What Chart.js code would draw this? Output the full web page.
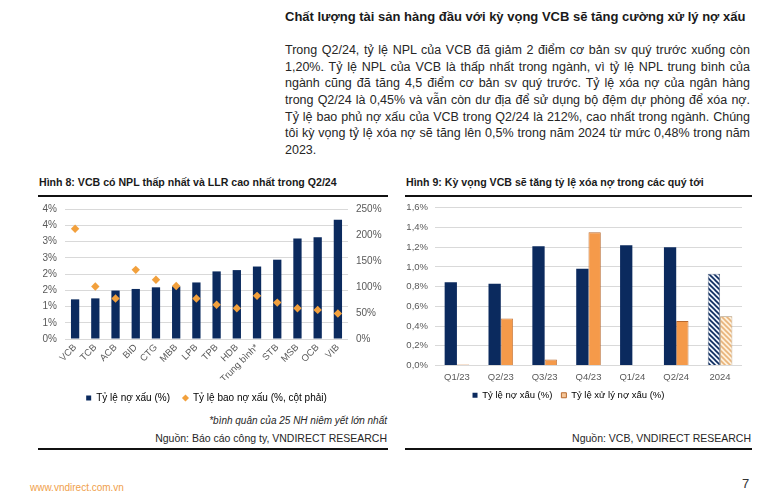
<!DOCTYPE html>
<html>
<head>
<meta charset="utf-8">
<script src="https://cdn.jsdelivr.net/npm/chart.js@4.4.1/dist/chart.umd.min.js"></script>
<style>
  html, body { margin:0; padding:0; background:#fff; }
  body { width:778px; height:491px; position:relative; overflow:hidden; font-family:"Liberation Sans", Arial, sans-serif; color:#222; }
  .abs { position:absolute; white-space:nowrap; }
  .heading { left:285px; top:9px; font-size:13px; font-weight:bold; color:#1a1a1a; }
  .para { position:absolute; left:285px; width:465px; font-size:12.5px; line-height:16px; color:#262626; }
  .para div { text-align:justify; text-align-last:justify; white-space:nowrap; height:16.7px; }
  .para div.last { text-align-last:left; }
  .ctitle { font-size:10.6px; font-weight:bold; color:#1a1a1a; }
  .rule { position:absolute; height:1.5px; background:#111; }
  .src { font-size:10.5px; color:#262626; text-align:right; }
  canvas { position:absolute; }
</style>
</head>
<body>
<div class="abs heading">Chất lượng tài sản hàng đầu với kỳ vọng VCB sẽ tăng cường xử lý nợ xấu</div>
<div class="para" style="top:42px;">
  <div>Trong Q2/24, tỷ lệ NPL của VCB đã giảm 2 điểm cơ bản sv quý trước xuống còn</div>
  <div>1,20%. Tỷ lệ NPL của VCB là thấp nhất trong ngành, vì tỷ lệ NPL trung bình của</div>
  <div>ngành cũng đã tăng 4,5 điểm cơ bản sv quý trước. Tỷ lệ xóa nợ của ngân hàng</div>
  <div>trong Q2/24 là 0,45% và vẫn còn dư địa để sử dụng bộ đệm dự phòng để xóa nợ.</div>
  <div>Tỷ lệ bao phủ nợ xấu của VCB trong Q2/24 là 212%, cao nhất trong ngành. Chúng</div>
  <div>tôi kỳ vọng tỷ lệ xóa nợ sẽ tăng lên 0,5% trong năm 2024 từ mức 0,48% trong năm</div>
  <div class="last">2023.</div>
</div>

<div class="abs ctitle" style="left:39px; top:176px;">Hình 8: VCB có NPL thấp nhất và LLR cao nhất trong Q2/24</div>
<div class="rule" style="left:38px; width:350px; top:195px;"></div>
<div class="abs ctitle" style="left:406px; top:176px;">Hình 9: Kỳ vọng VCB sẽ tăng tỷ lệ xóa nợ trong các quý tới</div>
<div class="rule" style="left:405px; width:347px; top:195px;"></div>

<canvas id="c1" width="395" height="218" style="left:0px; top:195px; width:395px; height:218px;"></canvas>
<canvas id="c2" width="383" height="215" style="left:395px; top:195px; width:383px; height:215px;"></canvas>

<div class="abs" style="left:0; width:387px; top:415px; font-size:10px; font-style:italic; color:#262626; text-align:right;">*bình quân của 25 NH niêm yết lớn nhất</div>
<div class="abs src" style="left:0; width:387px; top:432px;">Nguồn: Báo cáo công ty, VNDIRECT RESEARCH</div>
<div class="abs src" style="left:400px; width:351px; top:432px;">Nguồn: VCB, VNDIRECT RESEARCH</div>
<div class="rule" style="left:38px; width:350px; top:448px;"></div>
<div class="rule" style="left:405px; width:347px; top:448px;"></div>

<div class="abs" style="left:30px; top:482px; font-size:10px; color:#f0a04b;">www.vndirect.com.vn</div>
<div class="abs" style="left:742px; top:476px; font-size:13px; color:#333;">7</div>

<script>
// ---- Data: Hình 8 ----
const banks = ['VCB','TCB','ACB','BID','CTG','MBB','LPB','TPB','HDB','Trung bình*','STB','MSB','OCB','VIB'];
const nplRatio = [1.22, 1.25, 1.49, 1.54, 1.59, 1.62, 1.74, 2.08, 2.12, 2.23, 2.44, 3.09, 3.13, 3.67];
const llrRatio = [212, 101, 78, 133, 114, 102, 78, 66, 59, 83, 70, 59, 56, 49];

// ---- Data: Hình 9 ----
const quarters = ['Q1/23','Q2/23','Q3/23','Q4/23','Q1/24','Q2/24','2024'];
const vcbNpl = [0.845, 0.83, 1.21, 0.98, 1.22, 1.20, 0.93];
const vcbWriteOff = [0.01, 0.477, 0.06, 1.35, 0, 0.45, 0.50];

const NAVY = '#0b2a5e';
const ORANGE = '#f59a4a';
const DIAMOND = '#f2a03c';
const GRID = '#d9d9d9';
const TICK = '#595959';
const FONT = '"Liberation Sans", Arial, sans-serif';

function hatch(bg, fg, lw) {
  const s = 5;
  const c = document.createElement('canvas');
  c.width = s; c.height = s;
  const x = c.getContext('2d');
  x.fillStyle = bg; x.fillRect(0, 0, s, s);
  x.strokeStyle = fg; x.lineWidth = lw;
  for (const k of [-s, 0, s]) {
    x.beginPath(); x.moveTo(k - 1, -1); x.lineTo(k + s + 1, s + 1); x.stroke();
  }
  return x.createPattern(c, 'repeat');
}

Chart.defaults.font.family = FONT;
Chart.defaults.font.size = 9.5;
Chart.defaults.color = TICK;
Chart.defaults.animation = false;

new Chart(document.getElementById('c1'), {
  data: {
    labels: banks,
    datasets: [
      { type: 'line', label: 'Tỷ lệ bao nợ xấu (%, cột phải)', data: llrRatio, yAxisID: 'y1',
        showLine: false, pointStyle: 'rectRot', pointRadius: 4.2, pointBackgroundColor: DIAMOND,
        pointBorderColor: DIAMOND, pointBorderWidth: 0, order: 0 },
      { type: 'bar', label: 'Tỷ lệ nợ xấu (%)', data: nplRatio, yAxisID: 'y',
        backgroundColor: NAVY, barPercentage: 0.82, categoryPercentage: 0.5, order: 1 }
    ]
  },
  options: {
    responsive: false,
    devicePixelRatio: 1,
    layout: { padding: { top: 12, left: 0, right: 0, bottom: 0 } },
    plugins: {
      tooltip: { enabled: false },
      legend: {
        position: 'bottom',
        fullSize: false,
        labels: {
          usePointStyle: true, boxWidth: 5, boxHeight: 5, padding: 13,
          font: { size: 10, family: FONT }, color: '#262626',
          generateLabels: () => [
            { text: 'Tỷ lệ nợ xấu (%)', fillStyle: NAVY, strokeStyle: NAVY, lineWidth: 0, pointStyle: 'rect', datasetIndex: 1 },
            { text: 'Tỷ lệ bao nợ xấu (%, cột phải)', fillStyle: DIAMOND, strokeStyle: DIAMOND, lineWidth: 0, pointStyle: 'rectRot', datasetIndex: 0 }
          ]
        }
      }
    },
    scales: {
      x: {
        grid: { display: false, drawTicks: false },
        border: { display: false },
        ticks: { autoSkip: false, minRotation: 45, maxRotation: 45, padding: 3, color: TICK },
        afterFit: s => { s.height = 41; }
      },
      y: {
        position: 'left', min: 0, max: 4,
        grid: { color: GRID, lineWidth: 1, drawTicks: false },
        border: { display: false },
        ticks: { stepSize: 0.5, padding: 8, color: TICK, font: { size: 10 }, callback: v => Math.round(v) + '%' },
        afterFit: s => { s.width = 65; }
      },
      y1: {
        position: 'right', min: 0, max: 250,
        grid: { display: false, drawTicks: false },
        border: { display: false },
        ticks: { stepSize: 50, padding: 8, color: TICK, font: { size: 10 }, callback: v => v + '%' },
        afterFit: s => { s.width = 47; }
      }
    }
  }
});

const navyHatch = hatch('#eef3fb', NAVY, 1.6);
const orangeHatch = hatch('#fdf0dc', '#e9b47a', 1.6);

new Chart(document.getElementById('c2'), {
  type: 'bar',
  data: {
    labels: quarters,
    datasets: [
      { label: 'Tỷ lệ nợ xấu (%)', data: vcbNpl,
        backgroundColor: vcbNpl.map((v, i) => i === quarters.length - 1 ? navyHatch : NAVY),
        borderColor: vcbNpl.map((v, i) => i === quarters.length - 1 ? '#4a5a78' : NAVY),
        borderWidth: vcbNpl.map((v, i) => i === quarters.length - 1 ? 0.8 : 0),
        barPercentage: 1, categoryPercentage: 0.56 },
      { label: 'Tỷ lệ xử lý nợ xấu (%)', data: vcbWriteOff,
        backgroundColor: vcbWriteOff.map((v, i) => i === quarters.length - 1 ? orangeHatch : ORANGE),
        borderColor: vcbWriteOff.map((v, i) => i === quarters.length - 1 ? '#a89070' : '#b8692e'),
        borderWidth: 0.8,
        barPercentage: 1, categoryPercentage: 0.56 }
    ]
  },
  options: {
    responsive: false,
    devicePixelRatio: 1,
    layout: { padding: { top: 12, left: 0, right: 36, bottom: 0 } },
    plugins: {
      tooltip: { enabled: false },
      legend: {
        position: 'bottom',
        labels: {
          usePointStyle: true, boxWidth: 5, boxHeight: 5, padding: 9,
          font: { size: 9.5, family: FONT }, color: '#262626',
          generateLabels: () => [
            { text: 'Tỷ lệ nợ xấu (%)', fillStyle: NAVY, strokeStyle: NAVY, lineWidth: 0, pointStyle: 'rect', datasetIndex: 0 },
            { text: 'Tỷ lệ xử lý nợ xấu (%)', fillStyle: '#f5c79a', strokeStyle: '#b8692e', lineWidth: 1, pointStyle: 'rect', datasetIndex: 1 }
          ]
        }
      }
    },
    scales: {
      x: {
        grid: { display: false, drawTicks: false },
        border: { display: false },
        ticks: { padding: 6, color: TICK, maxRotation: 0 },
        afterFit: s => { s.height = 16; }
      },
      y: {
        min: 0, max: 1.6,
        grid: { color: GRID, lineWidth: 1, drawTicks: false },
        border: { display: false },
        ticks: { stepSize: 0.2, padding: 7, color: TICK, callback: v => v.toFixed(1).replace('.', ',') + '%' },
        afterFit: s => { s.width = 40; }
      }
    }
  }
});
</script>
</body>
</html>
